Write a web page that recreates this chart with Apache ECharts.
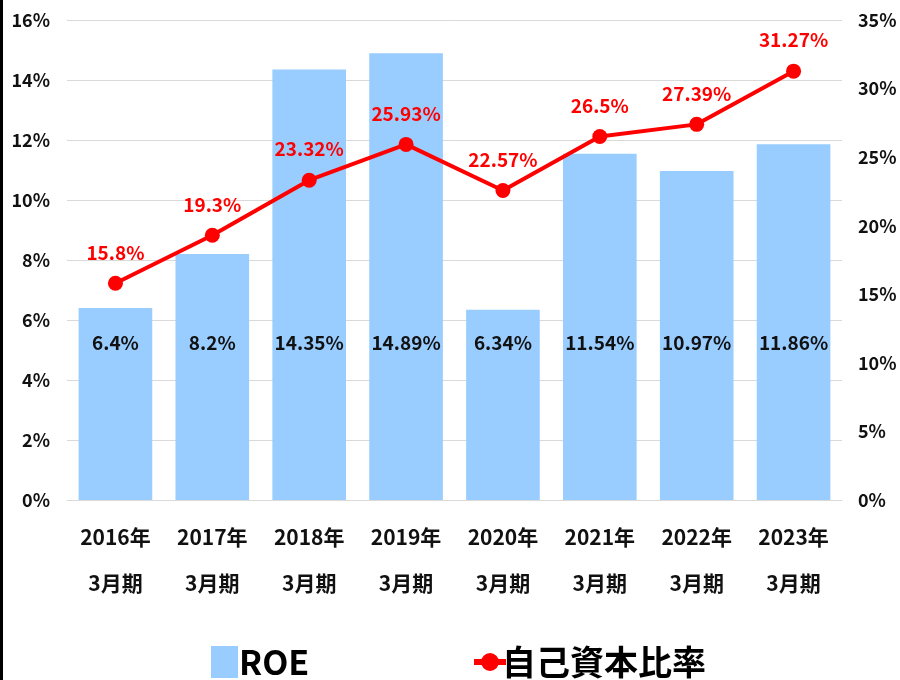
<!DOCTYPE html>
<html><head><meta charset="utf-8">
<script src="https://cdn.jsdelivr.net/npm/echarts@6/dist/echarts.min.js"></script>
<style>html,body{margin:0;padding:0;background:#fff}#c{width:900px;height:680px}</style>
</head><body><div id="c"></div>
<script>
var categories = ['2016年\n3月期','2017年\n3月期','2018年\n3月期','2019年\n3月期','2020年\n3月期','2021年\n3月期','2022年\n3月期','2023年\n3月期'];
var roe = [6.4, 8.2, 14.35, 14.89, 6.34, 11.54, 10.97, 11.86];
var equityRatio = [15.8, 19.3, 23.32, 25.93, 22.57, 26.5, 27.39, 31.27];
var seriesNames = ['ROE', '自己資本比率'];

var FONT = '"Noto Sans CJK JP", "Noto Sans", sans-serif';
var LINE_ICON = 'path://M0,6 L8,6 L8,12 L0,12 Z M24,6 L32,6 L32,12 L24,12 Z M7,9 A9,9 0 1,1 25,9 A9,9 0 1,1 7,9 Z';
var chart = echarts.init(document.getElementById('c'), null, {renderer:'canvas'});
chart.setOption({
  backgroundColor: '#fff',
  animation: false,
  textStyle: {fontFamily: FONT},
  graphic: [{type:'rect', shape:{x:0, y:0, width:3, height:680}, style:{fill:'#000'}}],
  grid: {left: 67, right: 58, top: 20, bottom: 180},
  legend: [
    {left: 206, top: 640, itemWidth: 27, itemHeight: 32, itemGap: 0,
     textStyle: {fontFamily: FONT, fontSize: 34, fontWeight: 'bold', color: '#000', padding:[0,0,0,-4]},
     data: [{name: seriesNames[0], icon: 'rect'}]},
    {left: 469, top: 640, itemWidth: 32, itemHeight: 18, itemGap: 0,
     textStyle: {fontFamily: FONT, fontSize: 34, fontWeight: 'bold', color: '#000', padding:[0,0,0,-9]},
     data: [{name: seriesNames[1], icon: LINE_ICON, itemStyle: {color: '#ff0000'}}]}
  ],
  xAxis: {
    type: 'category', data: categories,
    axisLine: {show: true, lineStyle: {color: '#d9d9d9', width: 1}},
    axisTick: {show: false},
    axisLabel: {color: '#111', fontSize: 21, fontWeight: 'bold', lineHeight: 46, margin: 14, fontFamily: FONT}
  },
  yAxis: [
    {type: 'value', min: 0, max: 16, interval: 2,
     axisLabel: {formatter: '{value}%', color: '#111', fontSize: 18, fontWeight: 'bold', margin: 17, fontFamily: FONT},
     splitLine: {lineStyle: {color: '#d9d9d9', width: 1}},
     axisLine: {show: false}, axisTick: {show: false}},
    {type: 'value', min: 0, max: 35, interval: 5,
     axisLabel: {formatter: '{value}%', color: '#111', fontSize: 18, fontWeight: 'bold', margin: 16, fontFamily: FONT},
     splitLine: {show: false}, axisLine: {show: false}, axisTick: {show: false}}
  ],
  series: [
    {name: seriesNames[0], type: 'bar', yAxisIndex: 0, data: roe, barWidth: '76%',
     itemStyle: {color: '#99ccff'},
     label: {show: true, position: 'insideBottom', distance: 148, formatter: '{c}%', color: '#111', fontSize: 19, fontWeight: 'bold', fontFamily: FONT}},
    {name: seriesNames[1], type: 'line', yAxisIndex: 1, data: equityRatio,
     lineStyle: {color: '#ff0000', width: 4}, itemStyle: {color: '#ff0000'},
     symbol: 'circle', symbolSize: 15,
     label: {show: true, position: 'top', distance: 14, formatter: '{c}%', color: '#ff0000', fontSize: 19, fontWeight: 'bold', fontFamily: FONT}}
  ]
});
</script></body></html>
